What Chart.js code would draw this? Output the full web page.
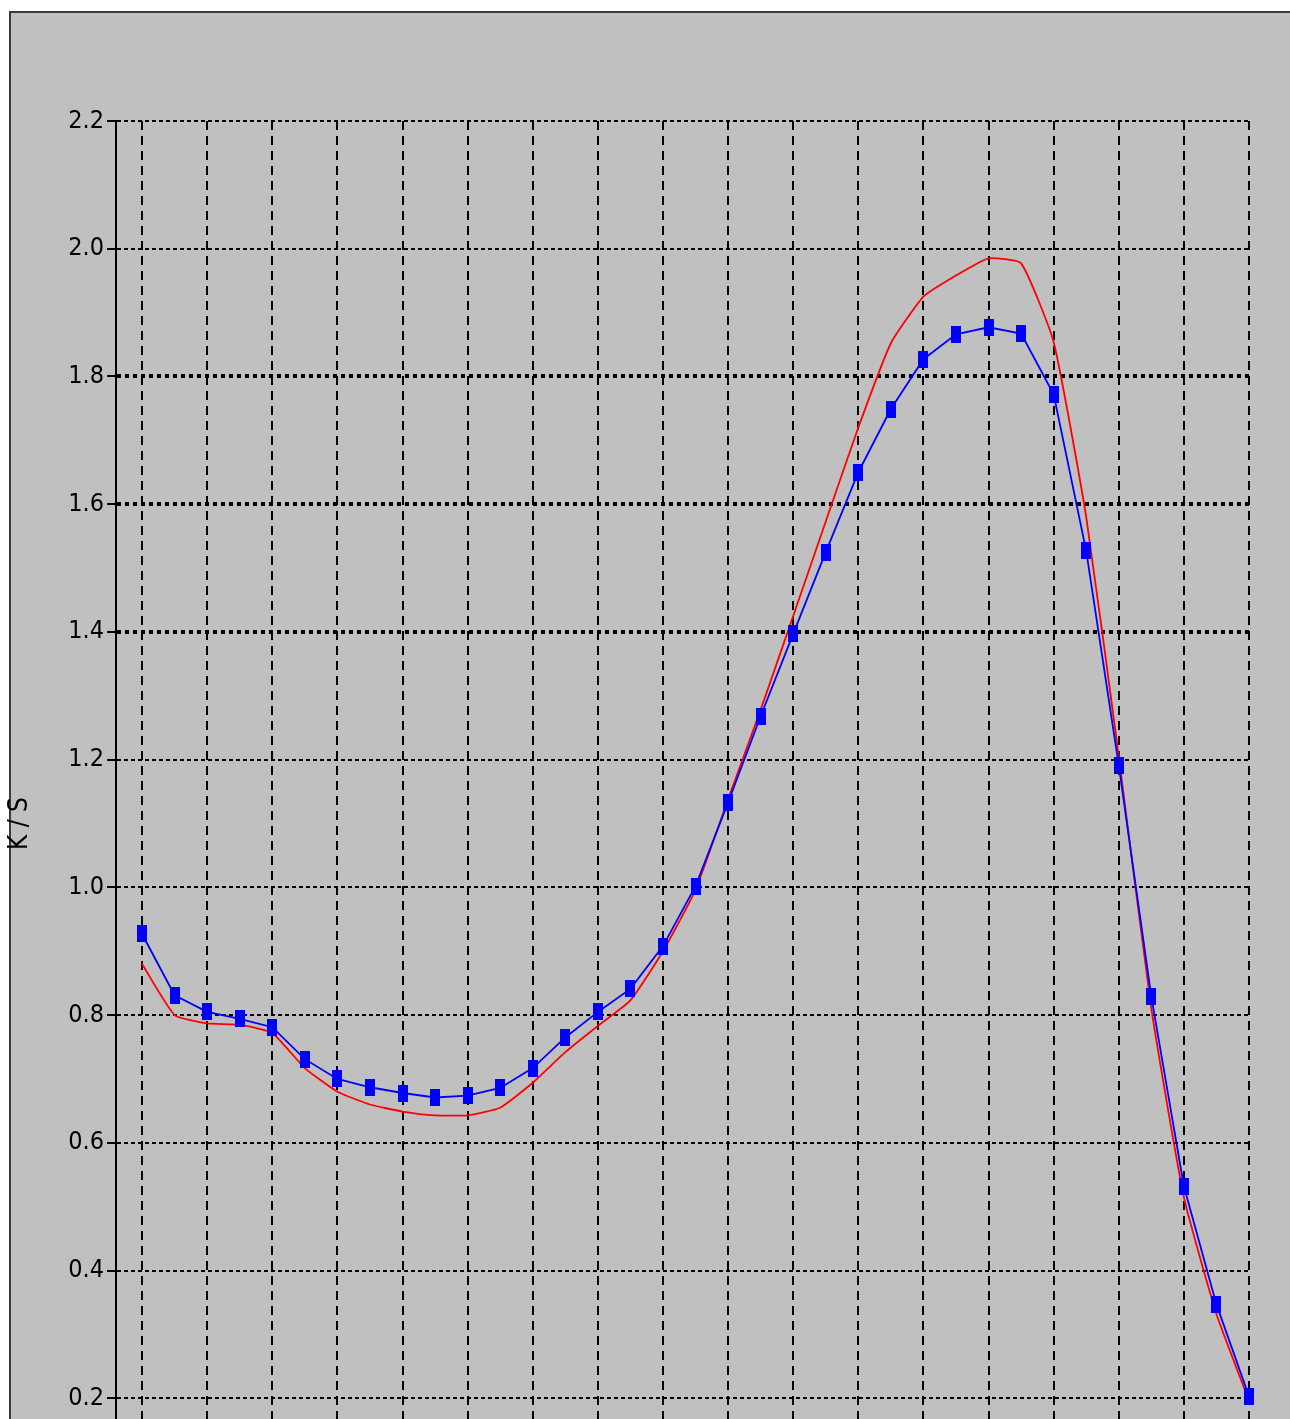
<!DOCTYPE html>
<html>
<head>
<meta charset="utf-8">
<script src="https://cdn.jsdelivr.net/npm/chart.js@4/dist/chart.umd.min.js"></script>
<style>
html,body{margin:0;padding:0;background:#ffffff;overflow:hidden;width:1290px;height:1419px;}
#panel{position:absolute;left:9px;top:11px;width:1300px;height:1600px;background:#c0c0c0;border-left:2px solid #3a3a3a;border-top:2px solid #3a3a3a;}
#c{position:absolute;left:0;top:0;}
</style>
</head>
<body>
<div id="panel"></div>
<canvas id="c" width="1290" height="1566"></canvas>
<script>
// ---- data ----
const wavelengths = [400,410,420,430,440,450,460,470,480,490,500,510,520,530,540,550,560,570,580,590,600,610,620,630,640,650,660,670,680,690,700,710,720,730,740];
const blueKS = [0.927,0.831,0.805,0.794,0.781,0.731,0.700,0.687,0.678,0.671,0.674,0.686,0.717,0.765,0.805,0.841,0.908,1.002,1.133,1.268,1.397,1.525,1.650,1.749,1.827,1.866,1.877,1.867,1.772,1.527,1.191,0.829,0.532,0.347,0.203];
const redKS = [0.880,0.800,0.787,0.785,0.772,0.717,0.680,0.660,0.649,0.643,0.643,0.655,0.694,0.742,0.783,0.823,0.900,0.996,1.138,1.278,1.425,1.573,1.720,1.852,1.925,1.958,1.985,1.977,1.854,1.580,1.205,0.810,0.515,0.332,0.196];
const xTickValues = [400,420,440,460,480,500,520,540,560,580,600,620,640,660,680,700,720,740];
const yTickValues = [0.0,0.2,0.4,0.6,0.8,1.0,1.2,1.4,1.6,1.8,2.0,2.2];
const yTickLabels = ['0.0','0.2','0.4','0.6','0.8','1.0','1.2','1.4','1.6','1.8','2.0','2.2'];
const boldYLines = [1.4,1.6,1.8];
const yTitle = 'K / S';

// ---- marker ----
const marker = document.createElement('canvas');
marker.width = 10; marker.height = 17;
(function(){const m = marker.getContext('2d'); m.fillStyle = '#0000ff'; m.fillRect(0,0,10,17);})();

const FONT = "'Liberation Sans Narrow','DejaVu Sans Condensed','Liberation Sans',Arial,sans-serif";
const isBold = v => boldYLines.some(b => Math.abs(b - v) < 1e-6);

new Chart(document.getElementById('c'), {
  type: 'line',
  data: {
    datasets: [
      {
        label: 'blue',
        data: wavelengths.map((w,i) => ({x:w, y:blueKS[i]})),
        borderColor: '#0000ff',
        borderWidth: 1.8,
        pointStyle: marker,
        pointRadius: 5,
        pointHoverRadius: 5,
        tension: 0,
        clip: false
      },
      {
        label: 'red',
        data: wavelengths.map((w,i) => ({x:w, y:redKS[i]})),
        borderColor: '#ff0000',
        borderWidth: 1.8,
        pointRadius: 0,
        tension: 0.15,
        clip: false
      }
    ]
  },
  options: {
    responsive: false,
    animation: false,
    events: [],
    layout: { padding: { top: 121, right: 41, left: 0, bottom: 0 } },
    plugins: { legend: { display: false }, tooltip: { enabled: false } },
    scales: {
      x: {
        type: 'linear',
        min: 392,
        max: 740,
        afterBuildTicks: s => { s.ticks = xTickValues.map(v => ({value: v})); },
        afterFit: s => { s.height = 40; },
        grid: { color: '#000000', lineWidth: 2, drawTicks: false },
        border: { display: false, dash: [9, 6] },
        ticks: { display: false }
      },
      y: {
        type: 'linear',
        min: 0,
        max: 2.2,
        afterBuildTicks: s => { s.ticks = yTickValues.map(v => ({value: v})); },
        afterFit: s => { s.width = 116; },
        grid: {
          color: '#000000',
          lineWidth: c => (c.tick && isBold(c.tick.value)) ? 4 : 2,
          drawTicks: true,
          tickLength: 9,
          tickWidth: 2,
          tickColor: '#000000'
        },
        border: { display: true, color: '#000000', width: 2, dash: c => (c.tick && isBold(c.tick.value)) ? [4, 4] : [4, 3] },
        ticks: {
          color: '#000000',
          padding: 3,
          font: { family: FONT, size: 25 },
          callback: (v, i) => yTickLabels[i]
        },
        title: {
          display: true,
          text: yTitle,
          color: '#000000',
          font: { family: FONT, size: 26 },
          padding: { top: 5, bottom: 0 }
        }
      }
    }
  }
});
</script>
</body>
</html>
